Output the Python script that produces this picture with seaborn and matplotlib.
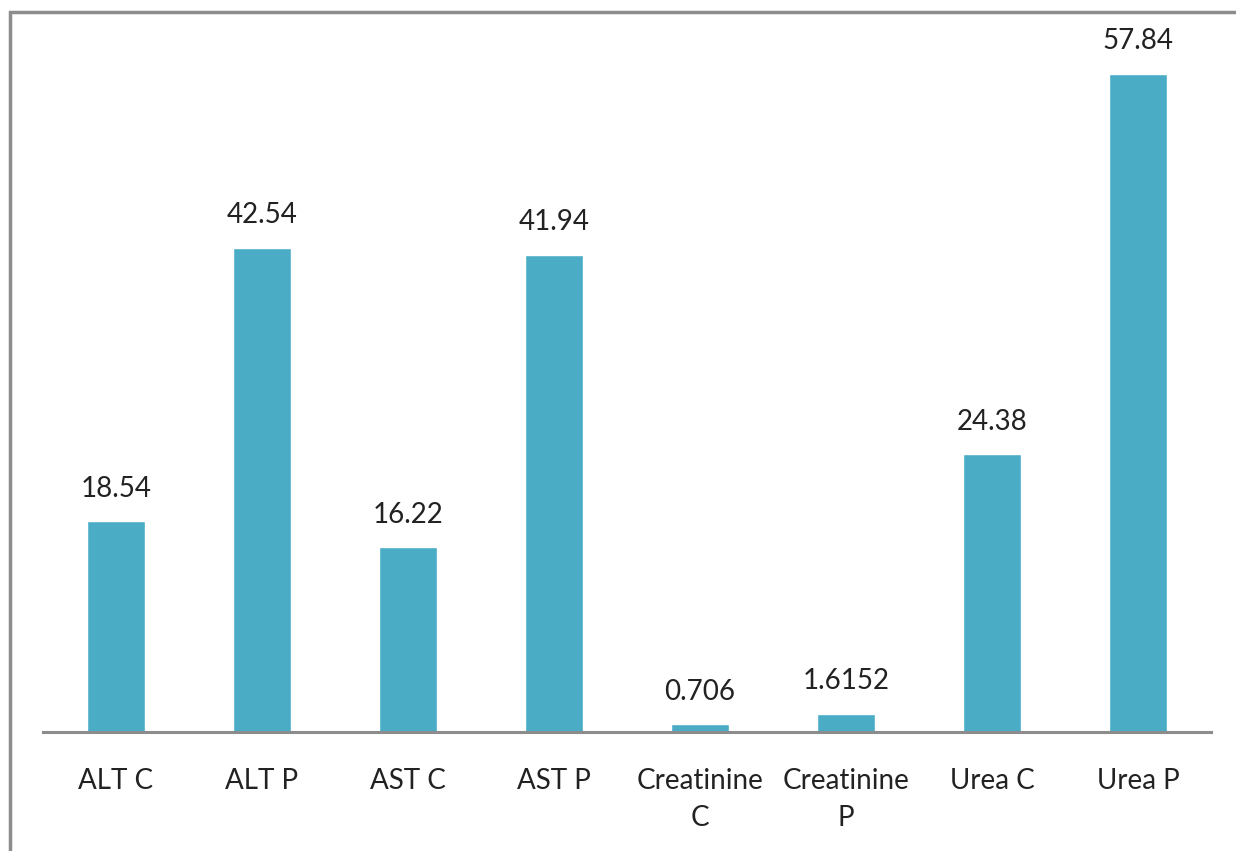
import matplotlib
matplotlib.use("Agg")
import matplotlib.pyplot as plt
import seaborn as sns
import pandas as pd
from matplotlib.lines import Line2D

# data
tests = ["ALT C", "ALT P", "AST C", "AST P", "Creatinine\nC", "Creatinine\nP", "Urea C", "Urea P"]
values = [18.54, 42.54, 16.22, 41.94, 0.706, 1.6152, 24.38, 57.84]
value_labels = ["18.54", "42.54", "16.22", "41.94", "0.706", "1.6152", "24.38", "57.84"]

df = pd.DataFrame({"test": tests, "value": values})

sns.set_style("white")
plt.rcParams["font.family"] = ["Lato", "DejaVu Sans"]

W, H = 1236, 851
fig = plt.figure(figsize=(W / 100, H / 100), dpi=100)
ax = fig.add_axes([43 / W, (H - 732) / H, (1211 - 43) / W, (732 - 49) / H])

sns.barplot(data=df, x="test", y="value", color="#4BACC6", saturation=1,
            width=0.4, ax=ax)

ax.set_ylim(0, 60)
ax.set_xlim(-0.5, len(tests) - 0.5)

for i, (v, lab) in enumerate(zip(values, value_labels)):
    ax.annotate(lab, (i, v), xytext=(0, 14), textcoords="offset points",
                ha="center", va="bottom", fontsize=20, color="#222222")

for s in ["top", "right", "left"]:
    ax.spines[s].set_visible(False)
ax.spines["bottom"].set_color("#8c8c8c")
ax.spines["bottom"].set_linewidth(2.2)
ax.set_yticks([])
ax.set_xlabel("")
ax.set_ylabel("")
ax.tick_params(axis="x", length=0, pad=26, labelsize=20, colors="#222222")
for t in ax.get_xticklabels():
    t.set_linespacing(1.5)

# outer chart frame: only the left and top edges show in the crop
fx, fy = 10 / W, (H - 12) / H
fig.add_artist(Line2D([fx, fx, 1.0], [0.0, fy, fy], transform=fig.transFigure,
                      color="#8c8c8c", linewidth=2.5, solid_joinstyle="miter"))

fig.savefig("out.png", dpi=100)
